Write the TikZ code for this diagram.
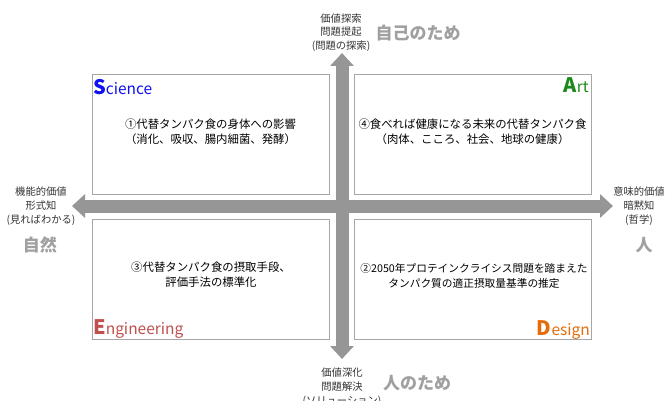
\documentclass[tikz,border=0pt]{standalone}
\usepackage{fontspec}
\setmainfont{Noto Sans CJK JP}
\usetikzlibrary{arrows.meta}
\definecolor{axisgray}{HTML}{969696}
\definecolor{biggray}{HTML}{A0A0A0}
\definecolor{labelgray}{HTML}{333333}
\definecolor{boxline}{HTML}{A6A6A6}
\definecolor{sciblue}{HTML}{1010F0}
\definecolor{artgreen}{HTML}{1A8A1A}
\definecolor{engred}{HTML}{C0504D}
\definecolor{desorange}{HTML}{E46C0A}
\tikzset{
  axis/.style={draw=axisgray, line width=13pt,
    {Triangle[length=13pt,width=23pt]}-{Triangle[length=13pt,width=23pt]}},
  quad/.style={draw=boxline, line width=0.9pt, fill=white},
  body/.style={font=\fontsize{11.4}{15}\selectfont, align=center, text=black, inner sep=0pt},
  axlabel/.style={font=\fontsize{10.3}{13.7}\selectfont, align=center, text=labelgray, inner sep=0pt},
  biglabel/.style={font=\fontsize{17}{22}\selectfont\bfseries, text=biggray, inner sep=0pt},
  corner/.style={inner sep=0pt, font=\fontsize{15.5}{18}\selectfont},
}
\newcommand{\Cap}[1]{{\fontsize{20}{22}\selectfont\bfseries #1}}
\begin{document}
\begin{tikzpicture}[x=1pt,y=-1pt]
\useasboundingbox (0,0) rectangle (669,401);
% axes
\coordinate (top) at (342,53);
\coordinate (bot) at (342,359);
\coordinate (lft) at (72,206);
\coordinate (rgt) at (613,206);
\draw[axis] (bot) -- (top);
\draw[axis] (lft) -- (rgt);
% quadrants
\draw[quad] (92.5,74) rectangle (329,194);
\draw[quad] (354,74) rectangle (591,194);
\draw[quad] (92.5,219) rectangle (329,339);
\draw[quad] (354,219) rectangle (591,339);
% corner titles
\node[corner, anchor=base west, text=sciblue] (sci) at (93,95) {\Cap{S}cience};
\node[corner, anchor=base east, text=artgreen] (art) at (589,93) {\Cap{A}rt};
\node[corner, anchor=base west, text=engred] (eng) at (93,334) {\Cap{E}ngineering};
\node[corner, anchor=base east, text=desorange] (des) at (590,335) {\Cap{D}esign};
% body texts
\node[body] (t1) at (210.5,131.5) {①代替タンパク食の身体への影響\\（消化、吸収、腸内細菌、発酵）};
\node[body] (t4) at (472.5,131.5) {④食べれば健康になる未来の代替タンパク食\\（肉体、こころ、社会、地球の健康）};
\node[body] (t3) at (211,274.5) {③代替タンパク食の摂取手段、\\評価手法の標準化};
\node[body, font=\fontsize{10.7}{15}\selectfont] (t2) at (474,275.5) {②2050年プロテインクライシス問題を踏まえた\\タンパク質の適正摂取量基準の推定};
% axis labels
\node[axlabel] (ltop) at (341,32.5) {価値探索\\問題提起\\(問題の探索)};
\node[axlabel] (lbot) at (342,387) {価値深化\\問題解決\\(ソリューション)};
\node[axlabel] (llft) at (41,206) {機能的価値\\形式知\\(見ればわかる)};
\node[axlabel] (lrgt) at (639,206) {意味的価値\\暗黙知\\(哲学)};
\node[biglabel] (btop) at (418,33) {自己のため};
\node[biglabel] (bbot) at (417,383) {人のため};
\node[biglabel] (blft) at (40,245) {自然};
\node[biglabel] (brgt) at (644,245) {人};
\end{tikzpicture}
\end{document}
